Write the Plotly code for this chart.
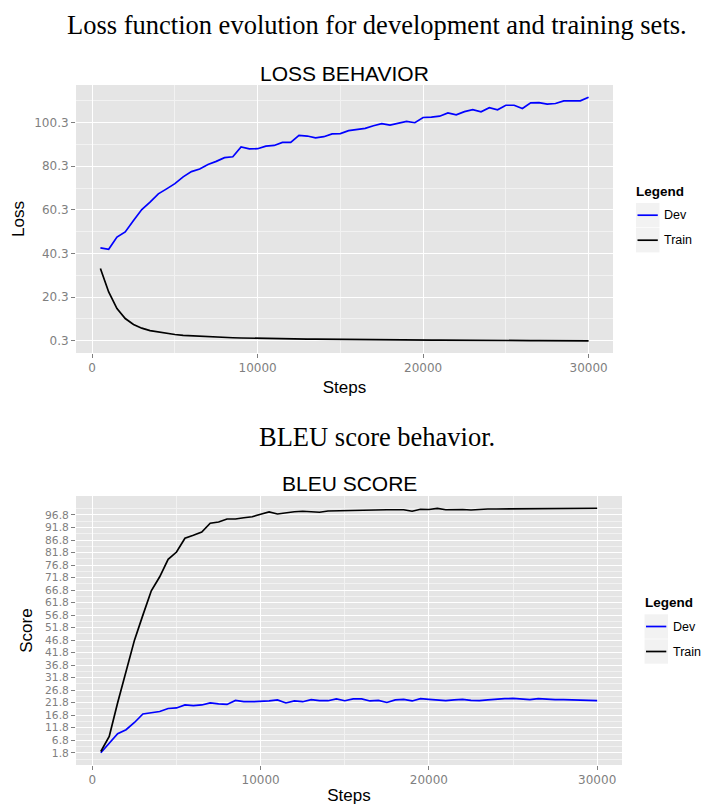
import plotly.graph_objects as go

# ---------------- data ----------------
steps = [500 * i for i in range(1, 61)]

loss_dev = [42.9, 42.2, 47.8, 50.2, 55.4, 60.4, 63.8, 67.6, 69.9, 72.3,
            75.4, 77.8, 79.0, 81.1, 82.5, 84.2, 84.6, 89.1, 88.2, 88.3,
            89.5, 89.8, 91.2, 91.2, 94.4, 94.1, 93.3, 93.8, 95.1, 95.2,
            96.6, 97.0, 97.6, 98.8, 99.8, 99.1, 100.0, 100.8, 100.2, 102.6,
            102.8, 103.2, 104.7, 103.8, 105.3, 106.2, 105.2, 107.1, 106.1, 108.2,
            108.2, 106.7, 109.3, 109.4, 108.7, 109.0, 110.2, 110.1, 110.2, 111.9]

loss_train = [33.4, 22.7, 15.1, 10.5, 7.8, 6.1, 5.0, 4.3, 3.7, 3.2,
              2.8, 2.6, 2.3, 2.0, 1.9, 1.8, 1.7, 1.6, 1.5, 1.4,
              1.35, 1.3, 1.25, 1.2, 1.15, 1.1, 1.05, 1.0, 1.0, 0.95,
              0.9, 0.9, 0.85, 0.85, 0.8, 0.8, 0.75, 0.75, 0.7, 0.7,
              0.65, 0.65, 0.6, 0.6, 0.55, 0.55, 0.5, 0.5, 0.5, 0.45,
              0.45, 0.4, 0.4, 0.4, 0.35, 0.35, 0.35, 0.3, 0.3, 0.3]

bleu_dev = [1.8, 5.8, 9.4, 11.0, 13.9, 17.3, 17.8, 18.3, 19.5, 19.7,
            20.9, 20.6, 20.9, 21.7, 21.3, 21.1, 22.7, 22.2, 22.2, 22.2,
            22.5, 22.9, 21.7, 22.5, 22.2, 23.0, 22.6, 22.6, 23.3, 22.6,
            23.3, 23.3, 22.5, 22.7, 21.9, 22.9, 23.1, 22.5, 23.4, 23.1,
            23.0, 22.6, 22.9, 23.1, 22.7, 22.6, 22.9, 23.0, 23.4, 23.5,
            23.3, 23.0, 23.4, 23.1, 23.0, 23.0, 22.9, 22.9, 22.5, 22.6]

bleu_train = [2.3, 8.3, 21.8, 34.7, 46.8, 56.8, 66.5, 72.1, 79.1, 82.0,
              87.5, 88.7, 90.0, 93.5, 94.0, 95.2, 95.2, 95.7, 96.1, 97.1,
              98.0, 97.2, 97.7, 98.1, 98.3, 98.2, 97.9, 98.4, 98.5, 98.6,
              98.6, 98.7, 98.7, 98.8, 98.9, 98.9, 98.9, 98.3, 99.1, 99.0,
              99.4, 98.9, 99.0, 99.0, 98.8, 99.1, 99.2, 99.2, 99.2, 99.3,
              99.3, 99.3, 99.4, 99.3, 99.3, 99.4, 99.5, 99.5, 99.5, 99.5]

series_names = ["Dev", "Train"]
series_colors = ["#0000FF", "#000000"]

x_ticks = [0, 10000, 20000, 30000]
x_minor = [5000, 15000, 25000]
loss_ticks = [0.3, 20.3, 40.3, 60.3, 80.3, 100.3]
loss_minor = [10.3, 30.3, 50.3, 70.3, 90.3, 110.3]
bleu_ticks = [round(1.8 + 5 * i, 1) for i in range(20)]
bleu_minor = [round(-0.7 + 5 * i, 1) for i in range(22)]

# ---------------- helpers ----------------
def expand(vals, f=0.05):
    lo, hi = min(vals), max(vals)
    d = (hi - lo) * f
    return [lo - d, hi + d]

GRID = "#FFFFFF"
MINOR = "#F2F2F2"
TICKC = "#7F7F7F"
SANS = "Liberation Sans, Arial, sans-serif"
TICKF = "DejaVu Sans, Liberation Sans, sans-serif"
SERIF = "Liberation Serif, Times New Roman, serif"
W, H = 702, 805


def px_x(p):
    return p / W


def px_y(p):
    return 1 - p / H


fig = go.Figure()
for name, col, yv in zip(series_names, series_colors, [loss_dev, loss_train]):
    fig.add_trace(go.Scatter(x=steps, y=yv, mode="lines", name=name,
                             line=dict(color=col, width=1.7),
                             xaxis="x", yaxis="y", showlegend=False))
for name, col, yv in zip(series_names, series_colors, [bleu_dev, bleu_train]):
    fig.add_trace(go.Scatter(x=steps, y=yv, mode="lines", name=name,
                             line=dict(color=col, width=1.7),
                             xaxis="x2", yaxis="y2", showlegend=False))


def axis_common(tsize):
    return dict(
        showline=False, zeroline=False,
        gridcolor=GRID, gridwidth=1.3,
        ticks="outside", ticklen=4, tickwidth=1, tickcolor=TICKC,
        tickfont=dict(family=TICKF, size=tsize, color=TICKC),
        title_font=dict(family=SANS, size=17, color="#000000"),
    )


xr = expand(steps)


def minor(vals):
    return dict(tickmode="array", tickvals=vals, showgrid=True,
                gridcolor=MINOR, gridwidth=0.7, ticks="")


fig.update_layout(
    width=W, height=H,
    margin=dict(l=0, r=0, t=0, b=0),
    paper_bgcolor="#FFFFFF",
    plot_bgcolor="#E5E5E5",
    showlegend=False,
    xaxis=dict(domain=[px_x(76), px_x(613)], range=xr, anchor="y",
               tickmode="array", tickvals=x_ticks,
               ticktext=[str(v) for v in x_ticks], minor=minor(x_minor),
               title=dict(text="Steps", standoff=6), **axis_common(12)),
    yaxis=dict(domain=[px_y(353), px_y(85)], range=expand(loss_dev + loss_train),
               anchor="x", tickmode="array", tickvals=loss_ticks,
               ticktext=[f"{v:.1f}" for v in loss_ticks], minor=minor(loss_minor),
               title=dict(text="Loss", standoff=5), **axis_common(12)),
    xaxis2=dict(domain=[px_x(76), px_x(622)], range=xr, anchor="y2",
                tickmode="array", tickvals=x_ticks,
                ticktext=[str(v) for v in x_ticks], minor=minor(x_minor),
                title=dict(text="Steps", standoff=6), **axis_common(12)),
    yaxis2=dict(domain=[px_y(765), px_y(496)], range=expand(bleu_dev + bleu_train),
                anchor="x2", tickmode="array", tickvals=bleu_ticks,
                ticktext=[f"{v:.1f}" for v in bleu_ticks], minor=minor(bleu_minor),
                title=dict(text="Score", standoff=8), **axis_common(10.7)),
)

annotations = [
    dict(text="Loss function evolution for development and training sets.",
         x=px_x(377), y=px_y(25), xanchor="center",
         font=dict(family=SERIF, size=26.5, color="#000")),
    dict(text="BLEU score behavior.",
         x=px_x(377), y=px_y(437), xanchor="center",
         font=dict(family=SERIF, size=26.5, color="#000")),
    dict(text="LOSS BEHAVIOR", x=px_x(344.5), y=px_y(73), xanchor="center",
         font=dict(family=SANS, size=21, color="#000")),
    dict(text="BLEU SCORE", x=px_x(349), y=px_y(483), xanchor="center",
         font=dict(family=SANS, size=21, color="#000")),
]

shapes = []


def add_legend(left, title_y, key_top):
    # ggplot-style legend: bold title, grey key boxes with short line, labels
    annotations.append(dict(text="<b>Legend</b>", x=px_x(left - 1), y=px_y(title_y),
                            xanchor="left",
                            font=dict(family=SANS, size=13.5, color="#000")))
    kh = 24.4
    for i, (name, col) in enumerate(zip(series_names, series_colors)):
        t = key_top + i * (kh + 0.6)
        shapes.append(dict(type="rect", xref="paper", yref="paper",
                           x0=px_x(left + 1), x1=px_x(left + 24.5),
                           y0=px_y(t + kh), y1=px_y(t),
                           fillcolor="#F2F2F2", line=dict(width=0), layer="below"))
        shapes.append(dict(type="line", xref="paper", yref="paper",
                           x0=px_x(left + 2.5), x1=px_x(left + 22.8),
                           y0=px_y(t + kh / 2), y1=px_y(t + kh / 2),
                           line=dict(color=col, width=1.7)))
        annotations.append(dict(text=name, x=px_x(left + 27), y=px_y(t + kh / 2),
                                xanchor="left",
                                font=dict(family=SANS, size=12.5, color="#000")))


add_legend(635, 191.7, 203)
add_legend(643.5, 602.3, 614.3)

for a in annotations:
    a.update(xref="paper", yref="paper", showarrow=False, yanchor="middle")
fig.update_layout(annotations=annotations, shapes=shapes)

fig.write_html("out.html",
               config={"displayModeBar": False},
               post_script="document.body.style.margin='0';document.body.style.padding='0';")
